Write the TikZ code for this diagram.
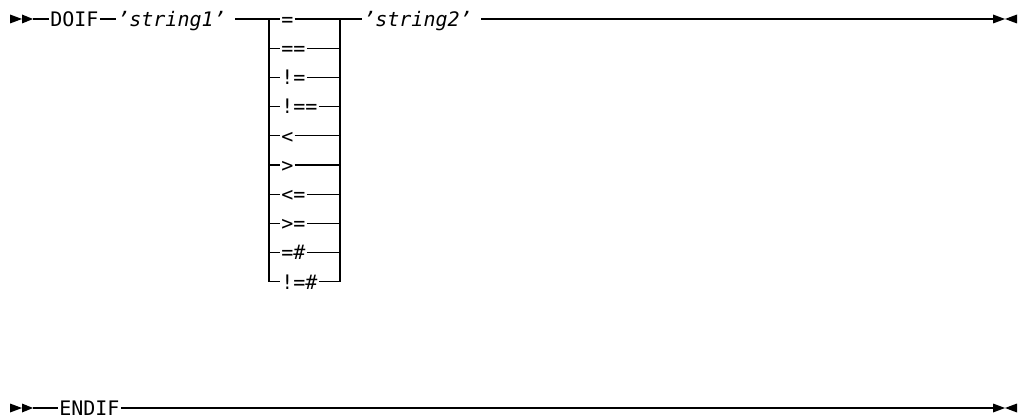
\documentclass[tikz,border=0pt]{standalone}
\usepackage{fontspec}
\newfontfamily\rrfont{DejaVu Sans Mono}
\begin{document}
\begin{tikzpicture}[x=0.75pt,y=-0.75pt,
  rr/.style={font=\rrfont\fontsize{15}{17}\selectfont, inner xsep=0.8pt, inner ysep=0pt,
    text height=10.9pt, text depth=0pt, anchor=west},
  ln/.style={line width=1pt},
  tip/.style={fill=black}]
\useasboundingbox (0,0) rectangle (1020,420);
% ---------- DOIF ----------
\fill[tip] (10,14.5) -- (22,19) -- (10,23.5) -- cycle;
\fill[tip] (22,14.5) -- (33,19) -- (22,23.5) -- cycle;
\coordinate (st1) at (33,19);
\node[rr] (doif) at (49,19) {DOIF};
\node[rr] (s1) at (116,19) {\itshape ’string1’\kern6pt};
\coordinate (jl0) at (269,19);
\coordinate (jr0) at (340,19);
\node[rr] (s2) at (362,19) {\itshape ’string2’\kern6pt};
\coordinate (en1) at (993,19);
\fill[tip] (993,14.5) -- (1005,19) -- (993,23.5) -- cycle;
\fill[tip] (1017,14.5) -- (1005,19) -- (1017,23.5) -- cycle;
\foreach \k/\t in {0/{=},1/{==},2/{!=},3/{!==},4/{<},5/{>},6/{<=},7/{>=},8/{=\#},9/{!=\#}}{
  \node[rr] (r\k) at (280,19+29.2*\k) {\t};
  \coordinate (jl\k) at (269,19+29.2*\k);
  \coordinate (jr\k) at (340,19+29.2*\k);
}
\draw[ln] (st1) -- (doif.west);
\draw[ln] (doif.east) -- (s1.west);
\draw[ln] (s1.east) -- (jl0) -- (r0.west);
\draw[ln] (r0.east) -- (jr0) -- (s2.west);
\draw[ln] (s2.east) -- (en1);
\foreach \k in {1,...,8}{
  \draw[ln] (jl\k) -- (r\k.west);
  \draw[ln] (r\k.east) -- (jr\k);
}
\draw[ln] (jl0) |- (r9.west);
\draw[ln] (r9.east) -| (jr0);
% ---------- ENDIF ----------
\fill[tip] (10,403.5) -- (22,408) -- (10,412.5) -- cycle;
\fill[tip] (22,403.5) -- (33,408) -- (22,412.5) -- cycle;
\coordinate (st2) at (33,408);
\node[rr] (endif) at (58,408) {ENDIF};
\coordinate (en2) at (993,408);
\fill[tip] (993,403.5) -- (1005,408) -- (993,412.5) -- cycle;
\fill[tip] (1017,403.5) -- (1005,408) -- (1017,412.5) -- cycle;
\draw[ln] (st2) -- (endif.west);
\draw[ln] (endif.east) -- (en2);
\end{tikzpicture}
\end{document}
